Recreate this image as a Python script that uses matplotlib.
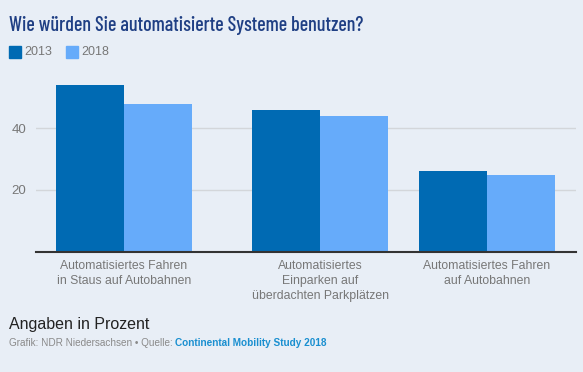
import matplotlib
matplotlib.use("Agg")
import matplotlib.pyplot as plt
import numpy as np

categories = ["Automatisiertes Fahren\nin Staus auf Autobahnen",
              "Automatisiertes\nEinparken auf\nüberdachten Parkplätzen",
              "Automatisiertes Fahren\nauf Autobahnen"]
werte_2013 = [54, 46, 26]
werte_2018 = [48, 44, 25]
jahre = ["2013", "2018"]
yticks = [20, 40]

bg = "#e8eef6"
c2013 = "#006ab3"
c2018 = "#66abfa"
grey = "#777777"

plt.rcParams['font.family'] = ['Liberation Sans', 'DejaVu Sans']

fig = plt.figure(figsize=(5.83, 3.72), dpi=100, facecolor=bg)
ax = fig.add_axes([36/583, 0.3234, 540/583, 0.4976], facecolor=bg)

# group centres in axis units (px-like), as laid out in the original
centres = np.array([88, 284, 451])
w = 68
ax.bar(centres - w/2, werte_2013, width=w, color=c2013, zorder=3)
ax.bar(centres + w/2, werte_2018, width=w, color=c2018, zorder=3)

ax.set_xlim(0, 540)
ax.set_ylim(0, 60)
ax.set_yticks(yticks)
ax.yaxis.grid(True, color="#d3d6da", linewidth=1, zorder=0)
ax.tick_params(axis='y', length=0, labelsize=9.5, labelcolor=grey, pad=7)
ax.set_xticks(centres)
ax.set_xticklabels(categories, fontsize=8.8, color=grey, linespacing=1.35)
ax.tick_params(axis='x', length=0, pad=6)
for s in ['top', 'right', 'left']:
    ax.spines[s].set_visible(False)
ax.spines['bottom'].set_color("#333333")
ax.spines['bottom'].set_linewidth(1.5)
ax.spines['bottom'].set_zorder(4)

fig.text(9/583, 1 - 31/372, "Wie würden Sie automatisierte Systeme benutzen?",
         family=['Barlow Condensed', 'DejaVu Sans'], weight='medium',
         fontsize=14.5, color="#1f3f84", va='baseline')

# legend
for i, (lab, col) in enumerate(zip(jahre, [c2013, c2018])):
    x0 = 9 + i * 57
    fig.patches.append(plt.Rectangle((x0/583, 1 - 58/372), 12/583, 12/372,
                                     transform=fig.transFigure, color=col))
    fig.text((x0 + 15)/583, 1 - 52/372, lab, fontsize=9, color=grey, va='center')

fig.text(9/583, 1 - 324/372, "Angaben in Prozent", fontsize=11.5, color="#222222", va='center')
t1 = fig.text(9/583, 1 - 343/372, "Grafik: NDR Niedersachsen • Quelle: ",
              fontsize=7.2, color="#8a8a8a", va='center')
fig.canvas.draw()
bb = t1.get_window_extent()
fig.text(bb.x1 / fig.bbox.width, 1 - 343/372, "Continental Mobility Study 2018",
         fontsize=7.2, color="#1a8fd0", weight='bold', va='center')

fig.savefig("out.png", dpi=100, facecolor=bg)
